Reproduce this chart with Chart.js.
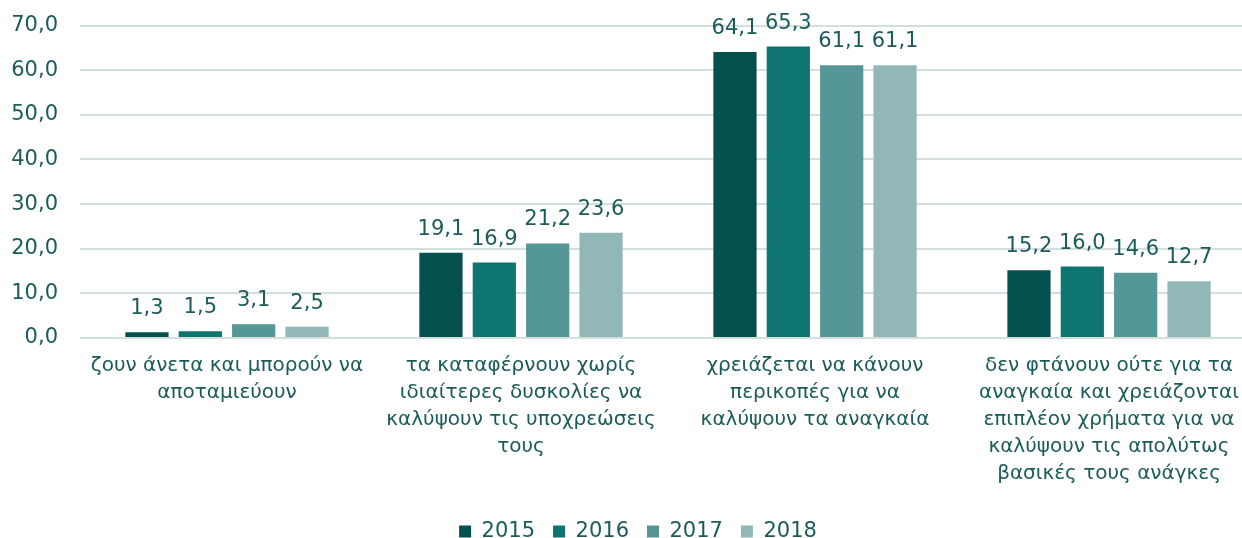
<!DOCTYPE html>
<html>
<head>
<meta charset="utf-8">
<script src="https://cdn.jsdelivr.net/npm/chart.js@4/dist/chart.umd.min.js"></script>
<style>
  html, body { margin: 0; padding: 0; background: #fff; overflow: hidden; }
  #wrap { width: 1256px; height: 561px; margin-top: -9px; }
</style>
</head>
<body>
<div id="wrap"><canvas id="chart"></canvas></div>
<script>
// categories (multi-line labels, as in the picture)
const categories = [
    ['ζουν άνετα και μπορούν να', 'αποταμιεύουν'],
    ['τα καταφέρνουν χωρίς', 'ιδιαίτερες δυσκολίες να', 'καλύψουν τις υποχρεώσεις', 'τους'],
    ['χρειάζεται να κάνουν', 'περικοπές για να', 'καλύψουν τα αναγκαία'],
    ['δεν φτάνουν ούτε για τα', 'αναγκαία και χρειάζονται', 'επιπλέον χρήματα για να', 'καλύψουν τις απολύτως', 'βασικές τους ανάγκες']
];
const years = ['2015', '2016', '2017', '2018'];
const values2015 = [1.3, 19.1, 64.1, 15.2];
const values2016 = [1.5, 16.9, 65.3, 16.0];
const values2017 = [3.1, 21.2, 61.1, 14.6];
const values2018 = [2.5, 23.6, 61.1, 12.7];
const colors = ['#03504f', '#0e7470', '#559696', '#91b8b7'];
const textColor = '#1b5c5a';
const fontFamily = '"DejaVu Sans", sans-serif';

const fmt = v => v.toFixed(1).replace('.', ',');

// draw value labels above each bar
const valueLabels = {
    id: 'valueLabels',
    afterLayout(chart) {
        // legend sits a little right of the canvas centre in the picture
        if (chart.legend) {
            chart.legend.left += 10;
            chart.legend.right += 10;
        }
    },
    afterDatasetsDraw(chart) {
        const ctx = chart.ctx;
        ctx.save();
        ctx.fillStyle = textColor;
        ctx.font = '21px ' + fontFamily;
        ctx.textAlign = 'center';
        ctx.textBaseline = 'alphabetic';
        chart.data.datasets.forEach((ds, i) => {
            chart.getDatasetMeta(i).data.forEach((bar, j) => {
                ctx.fillText(fmt(ds.data[j]), bar.x, bar.y - 18);
            });
        });
        ctx.restore();
    }
};

const allValues = [values2015, values2016, values2017, values2018];

new Chart(document.getElementById('chart'), {
    type: 'bar',
    data: {
        labels: categories,
        datasets: years.map((y, i) => ({
            label: y,
            data: allValues[i],
            backgroundColor: colors[i],
            categoryPercentage: 0.726,
            barPercentage: 0.81
        }))
    },
    options: {
        responsive: true,
        maintainAspectRatio: false,
        animation: false,
        layout: { padding: { top: 0, right: 0, left: 0, bottom: 0 } },
        scales: {
            x: {
                grid: { display: false },
                border: { display: false },
                ticks: {
                    color: textColor,
                    font: { family: fontFamily, size: 20, lineHeight: 1.35 },
                    maxRotation: 0,
                    autoSkip: false,
                    padding: 6
                },
                afterFit(scale) { scale.height = 165; }
            },
            y: {
                min: 0,
                max: 70,
                ticks: {
                    stepSize: 10,
                    color: textColor,
                    font: { family: fontFamily, size: 21 },
                    padding: 22,
                    callback: v => fmt(v)
                },
                grid: { color: '#d3dfdf', lineWidth: 2, drawTicks: false },
                border: { display: false },
                afterFit(scale) { scale.width = 80; }
            }
        },
        plugins: {
            legend: {
                position: 'bottom',
                labels: {
                    color: textColor,
                    font: { family: fontFamily, size: 21 },
                    boxWidth: 12,
                    boxHeight: 12,
                    padding: 18
                }
            },
            tooltip: { enabled: false }
        }
    },
    plugins: [valueLabels]
});
</script>
</body>
</html>
